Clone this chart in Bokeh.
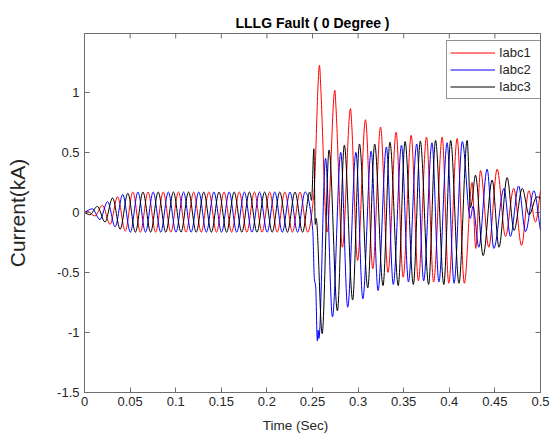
import numpy as np
from bokeh.plotting import figure
from bokeh.models import (ColumnDataSource, FixedTicker, Legend,
                          LegendItem, Range1d)
from bokeh.embed import file_html
from bokeh.resources import INLINE

# ---------------- data ----------------
title_text = "LLLG Fault ( 0 Degree )"
x_label = "Time (Sec)"
y_label = "Current(kA)"
series_names = ["Iabc1", "Iabc2", "Iabc3"]

x_min, x_max = 0, 0.5
y_min, y_max = -1.5, 1.49
x_ticks = [0, 0.05, 0.1, 0.15, 0.2, 0.25, 0.3, 0.35, 0.4, 0.45, 0.5]
x_tick_labels = ["0", "0.05", "0.1", "0.15", "0.2", "0.25", "0.3", "0.35",
                 "0.4", "0.45", "0.5"]
y_ticks = [-1.5, -1, -0.5, 0, 0.5, 1]
y_tick_labels = ["-1.5", "-1", "-0.5", "0", "0.5", "1"]

# Iabc1 (red): turning points (time s, current kA)
ia_t = [0, 0.0030, 0.0113, 0.0197, 0.0280, 0.0363, 0.0447, 0.0530, 0.0613,
        0.0697, 0.0780, 0.0863, 0.0947, 0.1030, 0.1113, 0.1197, 0.1280,
        0.1363, 0.1447, 0.1530, 0.1613, 0.1697, 0.1780, 0.1863, 0.1947,
        0.2030, 0.2113, 0.2197, 0.2280, 0.2363, 0.2447,
        0.2515, 0.2577, 0.2590, 0.2661, 0.2745, 0.2757, 0.2828, 0.2917,
        0.2928, 0.2994, 0.3081, 0.3161, 0.3246, 0.3328, 0.3417, 0.3494,
        0.3582, 0.3661, 0.3750, 0.3828, 0.3922, 0.3994, 0.4086, 0.4165,
        0.4250, 0.4290, 0.4342, 0.4433, 0.4525, 0.4616, 0.4707, 0.4792,
        0.4872, 0.4945, 0.5000]
ia_v = [0, 0.01, -0.03, 0.06, -0.10, 0.13, -0.155, 0.17, -0.165,
        0.17, -0.165, 0.17, -0.165, 0.17, -0.165, 0.17, -0.165,
        0.17, -0.165, 0.17, -0.165, 0.17, -0.165, 0.17, -0.165,
        0.17, -0.165, 0.17, -0.165, 0.17, -0.165,
        0.15, 1.225, 1.05, -0.164, 1.017, 0.88, -0.29, 0.864,
        0.76, -0.40, 0.772, -0.47, 0.711, -0.50, 0.669, -0.54,
        0.642, -0.57, 0.628, -0.58, 0.628, -0.59, 0.615, -0.59,
        0.25, -0.30, 0.35, -0.29, 0.36, -0.20, 0.20, -0.275,
        0.18, -0.08, 0.18]

# Iabc2 (blue)
ib_t = [0, 0.0086, 0.0169, 0.0253, 0.0336, 0.0419, 0.0503, 0.0586, 0.0669,
        0.0753, 0.0836, 0.0919, 0.1003, 0.1086, 0.1169, 0.1253, 0.1336,
        0.1419, 0.1503, 0.1586, 0.1669, 0.1753, 0.1836, 0.1919, 0.2003,
        0.2086, 0.2169, 0.2253, 0.2336, 0.2419,
        0.2503, 0.2520, 0.2535, 0.2553, 0.2562, 0.2570, 0.2643, 0.2719,
        0.2810, 0.2886, 0.2976, 0.3052, 0.3143, 0.3219, 0.3310, 0.3386,
        0.3476, 0.3552, 0.3643, 0.3719, 0.3810, 0.3886, 0.3976, 0.4052,
        0.4143, 0.4230, 0.4260, 0.4324, 0.4415, 0.4488, 0.4600, 0.4670,
        0.4760, 0.4836, 0.4927, 0.5000]
ib_v = [0, 0.03, -0.06, 0.09, -0.12, 0.15, -0.165, 0.17, -0.165,
        0.17, -0.165, 0.17, -0.165, 0.17, -0.165, 0.17, -0.165,
        0.17, -0.165, 0.17, -0.165, 0.17, -0.165, 0.17, -0.165,
        0.17, -0.165, 0.17, -0.165, 0.17,
        -0.15, -0.55, -0.62, -1.07, -0.98, -1.05, 0.45, -0.87,
        0.50, -0.79, 0.50, -0.72, 0.51, -0.65, 0.545, -0.60,
        0.56, -0.58, 0.57, -0.57, 0.58, -0.58, 0.58, -0.59,
        0.59, -0.05, 0.05, -0.29, 0.36, -0.30, 0.20, -0.20,
        0.22, -0.16, 0.18, -0.15]

# Iabc3 (black)
ic_t = [0, 0.0058, 0.0141, 0.0225, 0.0308, 0.0391, 0.0475, 0.0558, 0.0641,
        0.0725, 0.0808, 0.0891, 0.0975, 0.1058, 0.1141, 0.1225, 0.1308,
        0.1391, 0.1475, 0.1558, 0.1641, 0.1725, 0.1808, 0.1891, 0.1975,
        0.2058, 0.2141, 0.2225, 0.2308, 0.2391,
        0.2470, 0.2490, 0.2515, 0.2530, 0.2540, 0.2606, 0.2682, 0.2773,
        0.2849, 0.2940, 0.3015, 0.3106, 0.3182, 0.3273, 0.3349, 0.3440,
        0.3515, 0.3606, 0.3682, 0.3773, 0.3849, 0.3940, 0.4015, 0.4106,
        0.4196, 0.4232, 0.4250, 0.4287, 0.4371, 0.4470, 0.4545, 0.4634,
        0.4710, 0.4800, 0.4875, 0.4960, 0.5000]
ic_v = [0, -0.02, 0.05, -0.08, 0.12, -0.14, 0.16, -0.165, 0.17,
        -0.165, 0.17, -0.165, 0.17, -0.165, 0.17, -0.165, 0.17,
        -0.165, 0.17, -0.165, 0.17, -0.165, 0.17, -0.165, 0.17,
        -0.165, 0.17, -0.165, 0.17, -0.165,
        0.17, 0.10, 0.53, -0.10, -0.05, -1.01, 0.52, -0.82,
        0.56, -0.73, 0.57, -0.63, 0.57, -0.61, 0.585, -0.61,
        0.59, -0.60, 0.595, -0.60, 0.60, -0.60, 0.60, -0.59,
        0.60, 0.04, 0.10, 0.31, -0.36, 0.27, -0.29, 0.29,
        -0.15, 0.20, -0.02, 0.13, 0.12]

series = [(ia_t, ia_v), (ib_t, ib_v), (ic_t, ic_v)]
colors = ["#ff0000", "#0000ff", "#000000"]


def curve_source(t, v):
    """Smooth monotone (PCHIP-style) cubic through the turning points,
    expressed as Bezier segments for drawing."""
    t = np.asarray(t, float)
    v = np.asarray(v, float)
    h = np.diff(t)
    d = np.diff(v) / h
    m = np.zeros_like(t)
    m[0] = d[0]
    m[-1] = d[-1]
    for k in range(1, len(t) - 1):
        if d[k - 1] * d[k] > 0:
            w1 = 2 * h[k] + h[k - 1]
            w2 = h[k] + 2 * h[k - 1]
            m[k] = (w1 + w2) / (w1 / d[k - 1] + w2 / d[k])
    return ColumnDataSource(dict(
        x0=t[:-1], y0=v[:-1], x1=t[1:], y1=v[1:],
        cx0=t[:-1] + h / 3, cy0=v[:-1] + m[:-1] * h / 3,
        cx1=t[1:] - h / 3, cy1=v[1:] - m[1:] * h / 3))


FONT = "Liberation Sans"
TXT = "#262626"
AXC = "#6e6e6e"

p = figure(width=553, height=438, output_backend="svg", toolbar_location=None,
           x_range=Range1d(x_min, x_max), y_range=Range1d(y_min, y_max),
           min_border_left=84, min_border_right=13, min_border_top=33,
           min_border_bottom=46, background_fill_color="white",
           border_fill_color="white")
p.grid.visible = False
p.outline_line_color = AXC
p.outline_line_width = 1

p.title.text = title_text
p.title.align = "center"
p.title.text_font = FONT
p.title.text_font_size = "14px"
p.title.text_font_style = "bold"
p.title.text_color = "#000000"
p.title.standoff = 6

for ax in (p.xaxis[0], p.yaxis[0]):
    ax.major_tick_in = 5
    ax.major_tick_out = 0
    ax.minor_tick_line_color = None
    ax.axis_line_color = AXC
    ax.major_tick_line_color = AXC
    ax.major_label_text_font = FONT
    ax.major_label_text_font_size = "13px"
    ax.major_label_text_color = TXT
    ax.axis_label_text_font = FONT
    ax.axis_label_text_font_style = "normal"
    ax.axis_label_text_color = TXT

p.xaxis[0].ticker = FixedTicker(ticks=x_ticks)
p.xaxis[0].major_label_overrides = dict(zip(x_ticks, x_tick_labels))
p.xaxis[0].major_label_standoff = 4
p.xaxis[0].axis_label = x_label + "\u00a0" * 9
p.xaxis[0].axis_label_text_font_size = "13.5px"
p.xaxis[0].axis_label_standoff = 9

p.yaxis[0].ticker = FixedTicker(ticks=y_ticks)
p.yaxis[0].major_label_overrides = dict(zip(y_ticks, y_tick_labels))
p.yaxis[0].major_label_standoff = 5
p.yaxis[0].axis_label = y_label
p.yaxis[0].axis_label_text_font_size = "21px"
p.yaxis[0].axis_label_standoff = 25

# inward tick marks on the top and right edges of the box (MATLAB style)
p.ray(x=x_ticks, y=[y_max] * len(x_ticks), length=5, length_units="screen",
      angle=-np.pi / 2, line_color=AXC, line_width=1)
p.ray(x=[x_max] * len(y_ticks), y=y_ticks, length=5, length_units="screen",
      angle=np.pi, line_color=AXC, line_width=1)

items = []
for (t, v), c, name in zip(series, colors, series_names):
    r = p.bezier(x0="x0", y0="y0", x1="x1", y1="y1", cx0="cx0", cy0="cy0",
                 cx1="cx1", cy1="cy1", source=curve_source(t, v),
                 line_color=c, line_width=1)
    items.append(LegendItem(label=name, renderers=[r]))

legend = Legend(items=items, location=(362, 293), margin=0, padding=3,
                spacing=0, glyph_width=45, glyph_height=17, label_height=17,
                label_standoff=4, label_width=38,
                label_text_font=FONT, label_text_font_size="13px",
                label_text_color=TXT, border_line_color="#262626",
                border_line_width=1, background_fill_color="white",
                background_fill_alpha=1)
p.add_layout(legend, "center")

open("out.html", "w").write(file_html(p, INLINE))
